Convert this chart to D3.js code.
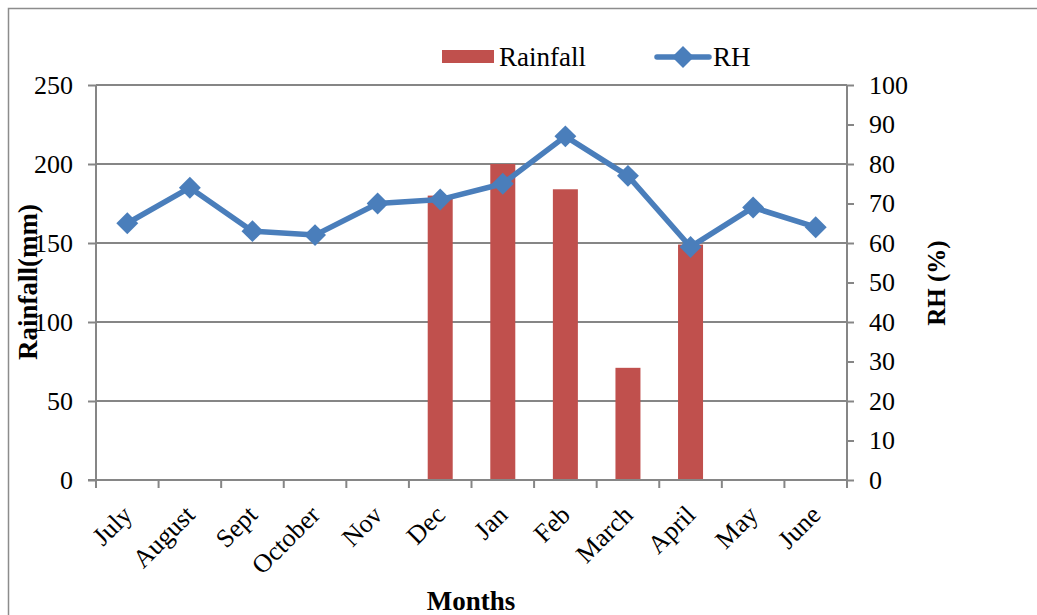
<!DOCTYPE html>
<html><head><meta charset="utf-8">
<script src="https://cdn.jsdelivr.net/npm/d3@7"></script>
<style>
body{margin:0;background:#fff;}
svg{display:block;font-family:"Liberation Serif","Times New Roman",serif;}
</style></head>
<body><svg id="chart" width="1037" height="615"></svg>
<script>
const months = ["July","August","Sept","October","Nov","Dec","Jan","Feb","March","April","May","June"];
const rainfall = [0,0,0,0,0,180,200,184,71,149,0,0];
const rh = [65,74,63,62,70,71,75,87,77,59,69,64];
const leftTicks = [0,50,100,150,200,250];
const rightTicks = [0,10,20,30,40,50,60,70,80,90,100];

const svg = d3.select("#chart");
const L=96,R=847,T=85,B=480;
const gridCol="#868686";
const blue="#4A7EBB", red="#C0504D";

// outer frame
svg.append("path").attr("d","M8.5,615 V8.5 H1037").attr("fill","none").attr("stroke","#8c8c8c").attr("stroke-width",1.5);

const x = d3.scaleBand().domain(months).range([L,R]);
const yL = d3.scaleLinear().domain([0,250]).range([B,T]);
const yR = d3.scaleLinear().domain([0,100]).range([B,T]);
const cx = m => x(m)+x.bandwidth()/2;

// gridlines
svg.append("g").selectAll("line").data(leftTicks.filter(d=>d>0)).join("line")
  .attr("x1",L).attr("x2",R).attr("y1",d=>yL(d)).attr("y2",d=>yL(d))
  .attr("stroke",gridCol).attr("stroke-width",2);

// bars
const bw=25;
svg.append("g").selectAll("rect").data(rainfall.map((v,i)=>({m:months[i],v})).filter(d=>d.v>0)).join("rect")
  .attr("x",d=>cx(d.m)-bw/2).attr("width",bw)
  .attr("y",d=>yL(d.v)).attr("height",d=>B-yL(d.v))
  .attr("fill",red);

// left axis
const gl = svg.append("g").attr("transform",`translate(${L},0)`)
  .call(d3.axisLeft(yL).tickValues(leftTicks).tickSize(8).tickPadding(15));
gl.selectAll("path,line").attr("stroke",gridCol).attr("stroke-width",2);
gl.select(".domain").attr("d",`M0,${T}V${B}`);
gl.selectAll("text").attr("font-size",26).attr("font-family","Liberation Serif").attr("fill","#000");

// right axis
const gr = svg.append("g").attr("transform",`translate(${R},0)`)
  .call(d3.axisRight(yR).tickValues(rightTicks).tickSize(7).tickPadding(15));
gr.selectAll("path,line").attr("stroke",gridCol).attr("stroke-width",2);
gr.select(".domain").attr("d",`M0,${T}V${B}`);
gr.selectAll("text").attr("font-size",26).attr("font-family","Liberation Serif").attr("fill","#000");

// x axis
const gx = svg.append("g").attr("transform",`translate(0,${B})`);
gx.append("line").attr("x1",L-8).attr("x2",R).attr("stroke",gridCol).attr("stroke-width",2);
const bounds = months.map(m=>x(m)).concat([R]);
gx.selectAll("line.tk").data(bounds).join("line").attr("class","tk")
  .attr("x1",d=>d).attr("x2",d=>d).attr("y1",0).attr("y2",8)
  .attr("stroke",gridCol).attr("stroke-width",2);
gx.selectAll("text").data(months).join("text")
  .attr("transform",d=>`translate(${cx(d)},${30}) rotate(-45)`)
  .attr("text-anchor","end").attr("dy","0.35em")
  .attr("font-size",26).attr("fill","#000").text(d=>d);

// RH line
const line = d3.line().x((d,i)=>cx(months[i])).y(d=>yR(d));
svg.append("path").datum(rh).attr("d",line).attr("fill","none")
  .attr("stroke",blue).attr("stroke-width",5.5).attr("stroke-linejoin","round");
const sq = d3.symbol().type(d3.symbolSquare).size(240);
svg.append("g").selectAll("path").data(rh).join("path")
  .attr("transform",(d,i)=>`translate(${cx(months[i])},${yR(d)}) rotate(45)`)
  .attr("d",sq).attr("fill",blue);

// axis titles
svg.append("text").attr("transform","translate(37,282) rotate(-90)").attr("text-anchor","middle")
  .attr("font-size",27).attr("font-weight","bold").text("Rainfall(mm)");
svg.append("text").attr("transform","translate(945,283) rotate(-90)").attr("text-anchor","middle")
  .attr("font-size",25).attr("font-weight","bold").text("RH (%)");
svg.append("text").attr("x",471).attr("y",610).attr("text-anchor","middle")
  .attr("font-size",27).attr("font-weight","bold").text("Months");

// legend
const lg = svg.append("g");
lg.append("rect").attr("x",442).attr("y",50).attr("width",52).attr("height",13).attr("fill",red);
lg.append("text").attr("x",499).attr("y",66).attr("font-size",27).text("Rainfall");
lg.append("line").attr("x1",657).attr("x2",709).attr("y1",57).attr("y2",57).attr("stroke",blue).attr("stroke-width",5.5).attr("stroke-linecap","round");
lg.append("path").attr("transform","translate(683,57) rotate(45)").attr("d",sq).attr("fill",blue);
lg.append("text").attr("x",713).attr("y",66).attr("font-size",27).text("RH");
</script></body></html>
